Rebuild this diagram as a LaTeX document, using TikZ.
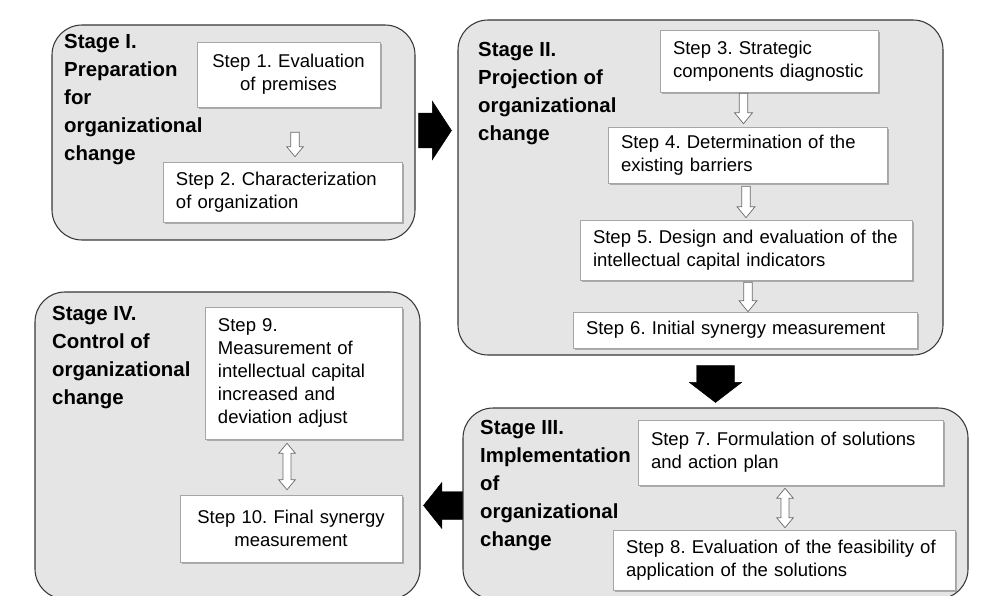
\documentclass[tikz,border=0pt]{standalone}
\usepackage{fontspec}
\setmainfont{Liberation Sans}
\usepackage{tikz}
\usetikzlibrary{calc,fit,shadows}
\frenchspacing
\definecolor{stagefill}{RGB}{229,229,229}
\definecolor{stageline}{RGB}{55,55,55}
\definecolor{hollowline}{RGB}{105,105,105}
% block arrow: style, tail, tip, shaft half width, head half width, head length
\newcommand{\blockarrow}[6]{%
  \coordinate (ba-s) at (#2);
  \coordinate (ba-e) at (#3);
  \coordinate (ba-b) at ($(ba-e)!#6!(ba-s)$);
  \draw[#1] ($(ba-s)!#4!90:(ba-e)$) -- ($(ba-b)!#4!-90:(ba-s)$)
    -- ($(ba-b)!#5!-90:(ba-s)$) -- (ba-e) -- ($(ba-b)!#5!90:(ba-s)$)
    -- ($(ba-b)!#4!90:(ba-s)$) -- ($(ba-s)!#4!-90:(ba-e)$) -- cycle;}
% same, with a head at both ends
\newcommand{\blockdouble}[6]{%
  \coordinate (ba-s) at (#2);
  \coordinate (ba-e) at (#3);
  \coordinate (ba-b) at ($(ba-e)!#6!(ba-s)$);
  \coordinate (ba-a) at ($(ba-s)!#6!(ba-e)$);
  \draw[#1] (ba-s) -- ($(ba-a)!#5!90:(ba-e)$) -- ($(ba-a)!#4!90:(ba-e)$)
    -- ($(ba-b)!#4!-90:(ba-s)$) -- ($(ba-b)!#5!-90:(ba-s)$) -- (ba-e)
    -- ($(ba-b)!#5!90:(ba-s)$) -- ($(ba-b)!#4!90:(ba-s)$)
    -- ($(ba-a)!#4!-90:(ba-e)$) -- ($(ba-a)!#5!-90:(ba-e)$) -- cycle;}

\begin{document}
\begin{tikzpicture}[x=0.03cm,y=-0.03cm,
  stage/.style={draw=stageline,fill=stagefill,line width=0.9pt,rounded corners=0.9cm,inner sep=0pt},
  stagelbl/.style={anchor=north west,align=left,inner sep=0pt,font=\fontsize{17.4}{24}\selectfont\bfseries},
  stepbox/.style={draw=gray!70,fill=white,line width=0.5pt,inner xsep=0.39cm,inner ysep=0pt,
    font=\fontsize{15.8}{19.6}\selectfont,
    drop shadow={shadow xshift=1.5pt,shadow yshift=-1.5pt,fill=black!55,opacity=0.5}},
  hollow/.style={draw=hollowline,fill=white,line width=0.6pt},
  bigarrow/.style={fill=black}]
  \useasboundingbox (0,0) rectangle (983,596);
  \clip (0,0) rectangle (983,596);
  % the four stages
  \node[stage,fit={(52,25) (415,240)}] (st1) {};
  \node[stage,fit={(458,20) (943,355)}] (st2) {};
  \node[stage,fit={(463,408) (968,599)}] (st3) {};
  \node[stage,fit={(35,292) (420,599)}] (st4) {};
  \node[stagelbl] (l1) at (64,34) {Stage I.\\Preparation\\for\\organizational\\change};
  \node[stagelbl] (l2) at (478,42) {Stage II.\\Projection of\\organizational\\change};
  \node[stagelbl] (l3) at (480,420) {Stage III.\\Implementation\\of\\organizational\\change};
  \node[stagelbl] (l4) at (52,306) {Stage IV.\\Control of\\organizational\\change};
  % steps
  \node[stepbox,text width=4.71cm,align=center,minimum height=1.95cm] (s1) at (288.5,74.5) {Step 1. Evaluation\\of premises};
  \node[stepbox,text width=6.39cm,align=left,minimum height=1.8cm] (s2) at (282.5,192) {Step 2. Characterization\\of organization};
  \node[stepbox,text width=5.76cm,align=left,minimum height=1.86cm] (s3) at (769,61) {Step 3. Strategic\\components diagnostic};
  \node[stepbox,text width=7.59cm,align=left,minimum height=1.68cm] (s4) at (747.5,155) {Step 4. Determination of the\\existing barriers};
  \node[stepbox,text width=9.18cm,align=left,minimum height=1.8cm] (s5) at (746,250) {Step 5. Design and evaluation of the\\intellectual capital indicators};
  \node[stepbox,text width=9.54cm,align=left,minimum height=1.08cm] (s6) at (745,330) {Step 6. Initial synergy measurement};
  \node[stepbox,text width=8.37cm,align=left,minimum height=1.95cm] (s7) at (790.5,452.5) {Step 7. Formulation of solutions\\and action plan};
  \node[stepbox,text width=9.48cm,align=left,minimum height=1.8cm] (s8) at (784,560) {Step 8. Evaluation of the feasibility of\\application of the solutions};
  \node[stepbox,text width=5.13cm,align=left,minimum height=3.96cm] (s9) at (303.5,373) {Step 9.\\Measurement of\\intellectual capital\\increased and\\deviation adjust};
  \node[stepbox,text width=5.88cm,align=center,minimum height=2.01cm] (s10) at (291,528.5) {Step 10. Final synergy\\measurement};
  % hollow arrows between steps
  \blockarrow{hollow}{$(s1.south)+(6.5,25)$}{$(s2.north)+(12.5,-5)$}{0.13cm}{0.25cm}{0.3cm}
  \blockarrow{hollow}{$(s4.north |- s3.south)+(-4,1)$}{$(s4.north)+(-4,-3)$}{0.13cm}{0.27cm}{0.33cm}
  \blockarrow{hollow}{$(s5.north |- s4.south)+(0,3)$}{$(s5.north)+(0,-2)$}{0.13cm}{0.27cm}{0.33cm}
  \blockarrow{hollow}{$(s6.north |- s5.south)+(3,2)$}{$(s6.north)+(3,0)$}{0.13cm}{0.27cm}{0.33cm}
  \blockdouble{hollow}{$(s10.north |- s9.south)+(-4,4)$}{$(s10.north)+(-4,-5)$}{0.12cm}{0.25cm}{0.3cm}
  \blockdouble{hollow}{$(s8.north |- s7.south)+(1,3)$}{$(s8.north)+(1,-2)$}{0.12cm}{0.25cm}{0.3cm}
  % black arrows between stages
  \blockarrow{bigarrow}{$(st1.east)+(3,-2)$}{$(st2.west |- st1.east)+(-6,-2)$}{0.52cm}{0.87cm}{0.57cm}
  \blockarrow{bigarrow}{$(st3.north |- st2.south)+(0,10)$}{$(st3.north)+(0,-5)$}{0.57cm}{0.78cm}{0.6cm}
  \blockarrow{bigarrow}{$(st3.west)+(0,2)$}{$(st4.east |- st3.west)+(3,2)$}{0.42cm}{0.69cm}{0.55cm}
\end{tikzpicture}
\end{document}
